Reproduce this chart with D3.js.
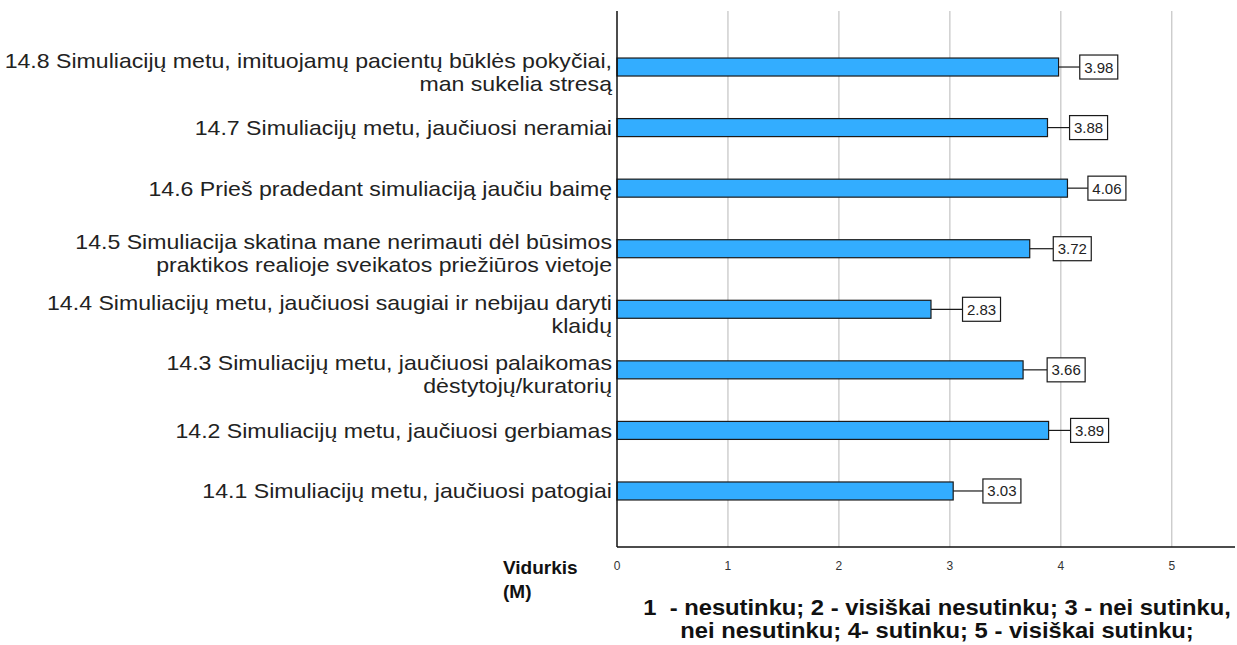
<!DOCTYPE html>
<html>
<head>
<meta charset="utf-8">
<script src="https://cdn.jsdelivr.net/npm/d3@7"></script>
<style>
  body { margin: 0; background: #fff; }
  svg { display: block; font-family: "Liberation Sans", Arial, sans-serif; }
</style>
</head>
<body>
<script>
// questions, top to bottom (line breaks as in the original chart)
var categories = [
    "14.8 Simuliacijų metu, imituojamų pacientų būklės pokyčiai,\nman sukelia stresą",
    "14.7 Simuliacijų metu, jaučiuosi neramiai",
    "14.6 Prieš pradedant simuliaciją jaučiu baimę",
    "14.5 Simuliacija skatina mane nerimauti dėl būsimos\npraktikos realioje sveikatos priežiūros vietoje",
    "14.4 Simuliacijų metu, jaučiuosi saugiai ir nebijau daryti\nklaidų",
    "14.3 Simuliacijų metu, jaučiuosi palaikomas\ndėstytojų/kuratorių",
    "14.2 Simuliacijų metu, jaučiuosi gerbiamas",
    "14.1 Simuliacijų metu, jaučiuosi patogiai"
];
var means = [3.98, 3.88, 4.06, 3.72, 2.83, 3.66, 3.89, 3.03];
var xTicks = [0, 1, 2, 3, 4, 5];
var axisTitle = ["Vidurkis", "(M)"];
var scaleNote = [
    "1\u00a0\u00a0- nesutinku; 2 - visiškai nesutinku; 3 - nei sutinku,",
    "nei nesutinku; 4- sutinku; 5 - visiškai sutinku;"
];

var width = 1237, height = 645;
var plotL = 617, plotR = 1235, plotT = 11, plotB = 547;

var svg = d3.select("body").append("svg")
    .attr("width", width)
    .attr("height", height);

var x = d3.scaleLinear().domain([0, 5.57]).range([plotL, plotR]);
var y = d3.scalePoint().domain(d3.range(categories.length)).range([plotT, plotB]).padding(0.925);

// the original font is set a bit wide, so stretch text horizontally
function stretch(sel, k) {
    sel.each(function() {
        var len = this.getComputedTextLength();
        d3.select(this)
            .attr("textLength", len * k)
            .attr("lengthAdjust", "spacingAndGlyphs");
    });
}

// grid lines
svg.selectAll(".grid")
    .data(xTicks.filter(function(d) { return d > 0; }))
    .enter().append("line")
    .attr("class", "grid")
    .attr("x1", function(d) { return x(d); })
    .attr("x2", function(d) { return x(d); })
    .attr("y1", plotT)
    .attr("y2", plotB)
    .style("stroke", "#c8c8c8")
    .style("stroke-width", 1.3);

// bars
var barH = 18;
svg.selectAll(".bar")
    .data(means)
    .enter().append("rect")
    .attr("class", "bar")
    .attr("x", x(0))
    .attr("y", function(d, i) { return y(i) - barH / 2; })
    .attr("width", function(d) { return x(d) - x(0); })
    .attr("height", barH)
    .style("fill", "#33adff")
    .style("stroke", "#1a1a1a")
    .style("stroke-width", 1.2);

// value labels: leader line + boxed text
var boxW = 38, boxH = 24;
function boxX(d) { return x(d) + 57 - 9 * d; }

svg.selectAll(".leader")
    .data(means)
    .enter().append("line")
    .attr("x1", function(d) { return x(d); })
    .attr("x2", function(d) { return boxX(d); })
    .attr("y1", function(d, i) { return y(i); })
    .attr("y2", function(d, i) { return y(i); })
    .style("stroke", "#1a1a1a")
    .style("stroke-width", 1.2);

svg.selectAll(".vbox")
    .data(means)
    .enter().append("rect")
    .attr("x", function(d) { return boxX(d); })
    .attr("y", function(d, i) { return y(i) - boxH / 2; })
    .attr("width", boxW)
    .attr("height", boxH)
    .style("fill", "#fff")
    .style("stroke", "#1a1a1a")
    .style("stroke-width", 1.2);

svg.selectAll(".vtext")
    .data(means)
    .enter().append("text")
    .attr("x", function(d) { return boxX(d) + boxW / 2; })
    .attr("y", function(d, i) { return y(i) + 5.5; })
    .attr("text-anchor", "middle")
    .style("font-size", "15px")
    .style("fill", "#222")
    .text(function(d) { return d.toFixed(2); });

// axes lines
svg.append("line")
    .attr("x1", plotL).attr("x2", plotL)
    .attr("y1", plotT).attr("y2", plotB)
    .style("stroke", "#111").style("stroke-width", 1.5);
svg.append("line")
    .attr("x1", plotL).attr("x2", plotR)
    .attr("y1", plotB).attr("y2", plotB)
    .style("stroke", "#111").style("stroke-width", 1.5);

// x tick labels
svg.selectAll(".xt")
    .data(xTicks)
    .enter().append("text")
    .attr("x", function(d) { return x(d); })
    .attr("y", 570)
    .attr("text-anchor", "middle")
    .style("font-size", "12px")
    .style("fill", "#333")
    .text(function(d) { return d; });

// category labels, one text per line
categories.forEach(function(c, i) {
    var lines = c.split("\n");
    var y0 = lines.length > 1 ? y(i) + 0.5 : y(i) + 7.5;
    svg.selectAll(".cat" + i)
        .data(lines)
        .enter().append("text")
        .attr("x", 612)
        .attr("y", function(d, j) { return y0 + j * 23; })
        .attr("text-anchor", "end")
        .style("font-size", "21px")
        .style("fill", "#222")
        .text(function(d) { return d; })
        .call(stretch, 1.1);
});

// axis title
svg.selectAll(".atitle")
    .data(axisTitle)
    .enter().append("text")
    .attr("x", 503)
    .attr("y", function(d, i) { return 574 + i * 24; })
    .style("font-size", "19px")
    .style("font-weight", "bold")
    .style("fill", "#111")
    .text(function(d) { return d; });

// scale note
svg.selectAll(".note")
    .data(scaleNote)
    .enter().append("text")
    .attr("x", 937)
    .attr("y", function(d, i) { return 615 + i * 23; })
    .attr("text-anchor", "middle")
    .style("font-size", "22px")
    .style("font-weight", "bold")
    .style("fill", "#111")
    .text(function(d) { return d; })
    .call(stretch, 1.08);
</script>
</body>
</html>
